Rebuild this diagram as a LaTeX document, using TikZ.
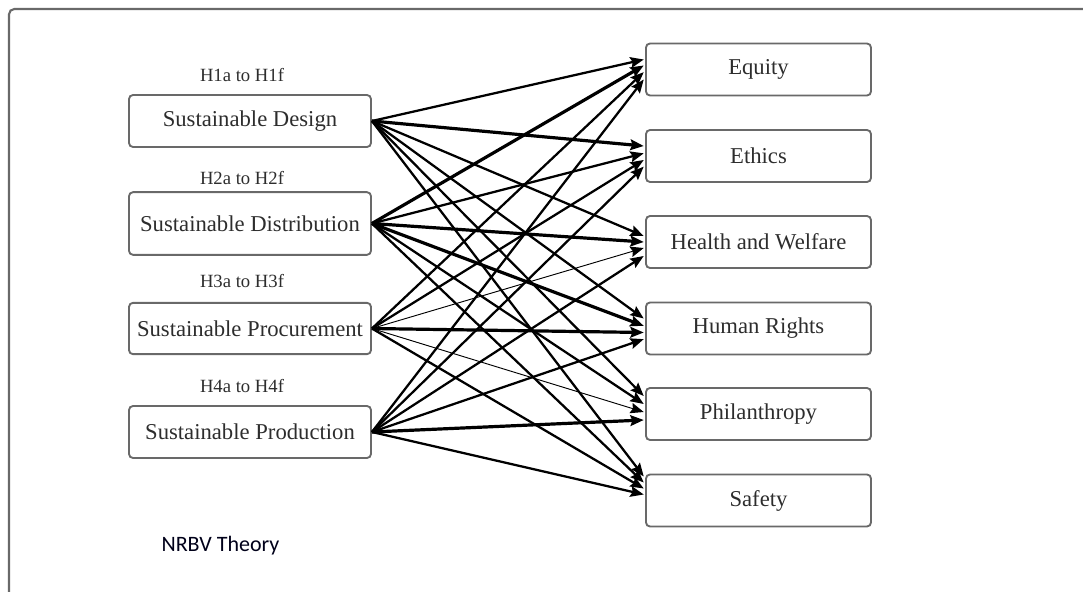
\documentclass[tikz,border=0pt]{standalone}
\usepackage{fontspec}
\setmainfont{Liberation Serif}
\newfontfamily\calib{Carlito}
\usetikzlibrary{arrows.meta}
\definecolor{boxline}{RGB}{105,105,105}
\definecolor{txt}{RGB}{45,45,45}
\tikzset{
  srcbox/.style={draw=boxline, line width=1.4pt, rounded corners=3pt, minimum width=181.5pt, inner sep=0pt, text=txt, font=\fontsize{17}{20}\selectfont},
  tgtbox/.style={draw=boxline, line width=1.4pt, rounded corners=3pt, minimum width=168.75pt, minimum height=39pt, inner sep=0pt, text=txt, font=\fontsize{17}{20}\selectfont},
  hlabel/.style={text=txt, inner sep=0pt, font=\fontsize{14}{16}\selectfont},
  arr/.style={-{Stealth[length=10pt,width=8pt,inset=1.5pt]}, line width=1.7pt, black},
  arrthick/.style={arr, line width=2.4pt},
  arrthin/.style={arr, line width=0.7pt},
}
\begin{document}
\begin{tikzpicture}[x=0.75pt,y=-0.75pt]
\useasboundingbox (0,0) rectangle (1083,592);
\clip (0,0) rectangle (1083,592);
% outer frame
\draw[boxline, line width=1.6pt, rounded corners=4pt] (9,600) -- (9,9) -- (1090,9);

% source boxes
\node[srcbox, minimum height=39pt] (des) at (250,121) {Sustainable Design};
\node[srcbox, minimum height=47pt] (dis) at (250,223.5) {Sustainable Distribution};
\node[srcbox, minimum height=38.5pt] (pro) at (250,328.5) {Sustainable Procurement};
\node[srcbox, minimum height=39pt] (prd) at (250,432) {Sustainable Production};

\node[hlabel] (h1) at (242,75) {H1a to H1f};
\node[hlabel] (h2) at (242,178) {H2a to H2f};
\node[hlabel] (h3) at (242,281) {H3a to H3f};
\node[hlabel] (h4) at (242,386) {H4a to H4f};

% target boxes
\node[tgtbox] (equ) at (758.5,69.5) {Equity};
\node[tgtbox] (eth) at (758.5,156) {Ethics};
\node[tgtbox] (hea) at (758.5,242) {Health and Welfare};
\node[tgtbox] (hum) at (758.5,328.5) {Human Rights};
\node[tgtbox] (phi) at (758.5,414) {Philanthropy};
\node[tgtbox] (saf) at (758.5,500.5) {Safety};

\node[inner sep=0pt, text=black!90!blue, font=\calib\fontsize{16.5}{19}\selectfont] (nrbv) at (220.5,546) {NRBV Theory};

% arrows from Sustainable Design
\draw[arr]      (des.east) -- ([yshift=7.5pt,xshift=-1pt]equ.west);
\draw[arrthick] (des.east) -- ([yshift=7.5pt,xshift=-1pt]eth.west);
\draw[arr]      (des.east) -- ([yshift=4.5pt,xshift=-1pt]hea.west);
\draw[arr]      (des.east) -- ([yshift=7.5pt,xshift=-1pt]hum.west);
\draw[arr]      (des.east) -- ([yshift=13.5pt,xshift=-1pt]phi.west);
\draw[arr]      (des.east) -- ([yshift=18pt,xshift=-1pt]saf.west);

% arrows from Sustainable Distribution
\draw[arrthick] (dis.east) -- ([yshift=3pt,xshift=-1pt]equ.west);
\draw[arr]      (dis.east) -- ([yshift=2pt,xshift=-1pt]eth.west);
\draw[arrthick] (dis.east) -- ([yshift=0pt,xshift=-1pt]hea.west);
\draw[arrthick] (dis.east) -- ([yshift=2pt,xshift=-1pt]hum.west);
\draw[arr]      (dis.east) -- ([yshift=7.5pt,xshift=-1pt]phi.west);
\draw[arr]      (dis.east) -- ([yshift=13.5pt,xshift=-1pt]saf.west);

% arrows from Sustainable Procurement
\draw[arr]      (pro.east) -- ([yshift=-2pt,xshift=-1pt]equ.west);
\draw[arr]      (pro.east) -- ([yshift=-3pt,xshift=-1pt]eth.west);
\draw[arrthin]  (pro.east) -- ([yshift=-4.5pt,xshift=-1pt]hea.west);
\draw[arrthick] (pro.east) -- ([yshift=-3pt,xshift=-1pt]hum.west);
\draw[arrthin]  (pro.east) -- ([yshift=1.5pt,xshift=-1pt]phi.west);
\draw[arr]      (pro.east) -- ([yshift=9pt,xshift=-1pt]saf.west);

% arrows from Sustainable Production
\draw[arr]      (prd.east) -- ([yshift=-7.5pt,xshift=-1pt]equ.west);
\draw[arr]      (prd.east) -- ([yshift=-8pt,xshift=-1pt]eth.west);
\draw[arr]      (prd.east) -- ([yshift=-10.5pt,xshift=-1pt]hea.west);
\draw[arr]      (prd.east) -- ([yshift=-8pt,xshift=-1pt]hum.west);
\draw[arrthick] (prd.east) -- ([yshift=-4.5pt,xshift=-1pt]phi.west);
\draw[arr]      (prd.east) -- ([yshift=4.5pt,xshift=-1pt]saf.west);
\end{tikzpicture}
\end{document}
